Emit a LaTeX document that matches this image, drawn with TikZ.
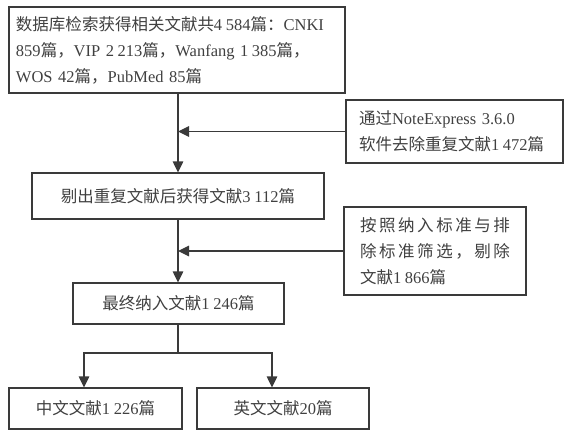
\documentclass[tikz,border=0pt]{standalone}
\usepackage{fontspec}
\setmainfont{Liberation Serif}
\newfontfamily\cjk{Noto Sans CJK SC}
\newcommand\zh[1]{{\cjk #1}}
\newcommand\ns{\hspace{0.22em}}
\usetikzlibrary{arrows.meta}
\definecolor{txt}{HTML}{404040}
\definecolor{ln}{HTML}{3A3A3A}
\begin{document}
\begin{tikzpicture}[x=1pt,y=-1pt,
  box/.style={draw=ln,line width=1.2pt,text=txt,font=\fontsize{16.5}{26}\selectfont,inner sep=0pt},
  conn/.style={draw=ln,line width=1.2pt},
  arr/.style={conn,-{Triangle[length=11pt,width=10.5pt]}}]
\useasboundingbox (0,0) rectangle (570,432);
\node[box,minimum width=336,minimum height=86,text width=322,inner xsep=7,align=left] (b1) at (177,50)
 {\zh{数据库检索获得相关文献共}4\ns584\zh{篇：}CNKI\\
  859\zh{篇，}VIP 2\ns213\zh{篇，}Wanfang 1\ns385\zh{篇，}\\
  WOS 42\zh{篇，}PubMed 85\zh{篇}};
\node[box,minimum width=217,minimum height=63,text width=191,inner xsep=13,align=left] (b2) at (454.5,131.5)
 {\zh{通过}NoteExpress 3.6.0\\
  \zh{软件去除重复文献}1\ns472\zh{篇}};
\node[box,minimum width=292,minimum height=46] (b3) at (178,196)
 {\zh{剔出重复文献后获得文献}3\ns112\zh{篇}};
\node[box,minimum width=182,minimum height=88,text width=150,inner xsep=16,align=left] (b4) at (435,251)
 {\makebox[150pt][s]{\cjk 按\hfill 照\hfill 纳\hfill 入\hfill 标\hfill 准\hfill 与\hfill 排}\\
  \makebox[150pt][s]{\cjk 除\hfill 标\hfill 准\hfill 筛\hfill 选\hfill ，\hfill 剔\hfill 除}\\
  \zh{文献}1\ns866\zh{篇}};
\node[box,minimum width=211,minimum height=41] (b5) at (178.5,303.5)
 {\zh{最终纳入文献}1\ns246\zh{篇}};
\node[box,minimum width=173,minimum height=41] (b6) at (95.5,408.5)
 {\zh{中文文献}1\ns226\zh{篇}};
\node[box,minimum width=172,minimum height=41] (b7) at (283,408.5)
 {\zh{英文文献}20\zh{篇}};
\coordinate (s) at (178,353);
\draw[arr] (b1.south -| s) -- (b3.north -| s);
\draw[arr] (b2.west) -- (b2.west -| s);
\draw[arr] (b3.south -| s) -- (b5.north -| s);
\draw[arr] (b4.west) -- (b4.west -| s);
\draw[conn] (b5.south -| s) -- (s);
\draw[arr] (s) -| ([xshift=-11.5pt]b6.north);
\draw[arr] (s) -| ([xshift=-11pt]b7.north);
\end{tikzpicture}
\end{document}
